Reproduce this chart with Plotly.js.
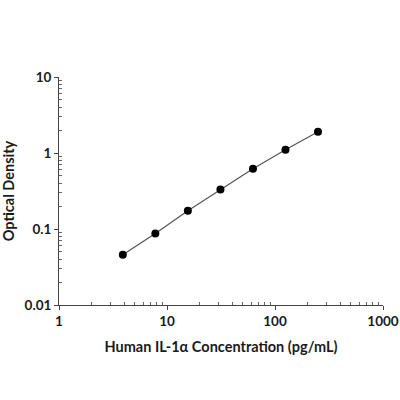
<!DOCTYPE html>
<html>
<head>
<meta charset="utf-8">
<script src="https://cdn.plot.ly/plotly-3.0.1.min.js"></script>
<style>
  html, body { margin: 0; padding: 0; background: #fff; }
  #chart { width: 400px; height: 400px; }
</style>
</head>
<body>
<div id="chart"></div>
<script>
// standard curve
let concentration = [3.9, 7.8, 15.6, 31.25, 62.5, 125, 250];
let optical_density = [0.046, 0.087, 0.174, 0.33, 0.62, 1.1, 1.9];

let xTickVals = [1, 10, 100, 1000];
let xTickText = ['1', '10', '100', '1000'];
let yTickVals = [0.01, 0.1, 1, 10];
let yTickText = ['0.01', '0.1', '1', '10'];

// minor ticks at 2..9 of every decade
function minor_vals(decades) {
    let vals = [];
    for (let d of decades) {
        for (let k = 2; k <= 9; k++) {
            vals.push(k * d);
        }
    }
    return vals;
}

let font_family = 'Lato, "Open Sans", sans-serif';

let trace = {
    x: concentration,
    y: optical_density,
    type: 'scatter',
    mode: 'lines+markers',
    line: { color: '#555555', width: 1.2 },
    marker: { color: '#000000', size: 8 },
    hoverinfo: 'none'
};

let layout = {
    width: 400,
    height: 400,
    margin: { l: 59, r: 17, t: 77, b: 95 },
    paper_bgcolor: '#ffffff',
    plot_bgcolor: '#ffffff',
    showlegend: false,
    font: { family: font_family, color: '#1a1a1a', size: 13, weight: 'bold' },
    xaxis: {
        type: 'log',
        range: [0, 3],
        tickvals: xTickVals,
        ticktext: xTickText,
        ticks: 'outside',
        ticklen: 4,
        tickcolor: '#444',
        showline: true,
        linecolor: '#444',
        linewidth: 1,
        showgrid: false,
        zeroline: false,
        tickfont: { size: 13.5, weight: 'bold' },
        minor: { tickvals: minor_vals([1, 10, 100]), ticks: 'inside', ticklen: 3, tickcolor: '#666', showgrid: false },
        title: { text: 'Human IL-1α Concentration (pg/mL)', font: { size: 14.5, weight: 'bold' }, standoff: 13 }
    },
    yaxis: {
        type: 'log',
        range: [-2, 1],
        tickvals: yTickVals,
        ticktext: yTickText,
        ticks: 'outside',
        ticklen: 4,
        tickcolor: '#444',
        showline: true,
        linecolor: '#444',
        linewidth: 1,
        showgrid: false,
        zeroline: false,
        tickfont: { size: 13.5, weight: 'bold' },
        minor: { tickvals: minor_vals([0.01, 0.1, 1]), ticks: 'inside', ticklen: 3, tickcolor: '#666', showgrid: false },
        title: { text: 'Optical Density', font: { size: 14.5, weight: 'bold' }, standoff: 8 }
    }
};

Plotly.newPlot('chart', [trace], layout, { staticPlot: true, displayModeBar: false });
</script>
</body>
</html>
